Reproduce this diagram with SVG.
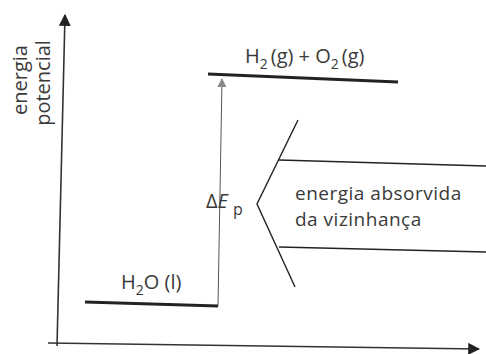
<svg xmlns="http://www.w3.org/2000/svg" width="486" height="354" viewBox="0 0 486 354">
<defs>
<style>
.t{font-family:"Open Sans","Liberation Sans",sans-serif;font-size:20px;fill:#3a3a3a}
.b{font-size:19px;letter-spacing:0.5px}
.ax{stroke:#333;stroke-width:1.6;fill:none}
.lv{stroke:#222;stroke-width:3;fill:none}
.ln{stroke:#222;stroke-width:1.4;fill:none}
.thin{stroke:#555;stroke-width:1;fill:none}
</style>
<marker id="ah2" viewBox="0 0 10 10" refX="9" refY="5" markerWidth="12" markerHeight="12" orient="auto" markerUnits="userSpaceOnUse">
<path d="M0,0 L10,5 L0,10 Z" fill="#222"/>
</marker>
<marker id="ah3" viewBox="0 0 10 10" refX="9" refY="5" markerWidth="9" markerHeight="10" orient="auto" markerUnits="userSpaceOnUse">
<path d="M0,0 L10,5 L0,10 Z" fill="#888"/>
</marker>
</defs>
<g id="connectors">
<path id="y-axis" class="ax" d="M57,346 L65,15" marker-end="url(#ah2)"/>
<path id="x-axis" class="ax" d="M48,343 L479,349" marker-end="url(#ah2)"/>
<path id="delta" class="thin" d="M218,306 L222,79" marker-end="url(#ah3)"/>
</g>
<g id="level-low">
<path class="lv" d="M85,302 L218,306"/>
<text class="t" x="121" y="289">H<tspan font-size="14" dy="6">2</tspan><tspan dy="-6">O (l)</tspan></text>
</g>
<g id="level-high">
<path class="lv" d="M208,74 L398,82"/>
<text class="t" x="245" y="63">H<tspan font-size="14" dy="6">2</tspan><tspan dy="-6" dx="3">(g) + O</tspan><tspan font-size="14" dy="6">2</tspan><tspan dy="-6" dx="3">(g)</tspan></text>
</g>
<g id="delta-label">
<text class="t" x="206" y="208">Δ<tspan font-style="italic">E</tspan><tspan font-size="16" dx="5" dy="7">p</tspan></text>
</g>
<g id="energy-arrow">
<path class="ln" d="M298,120 L257,204 L295,287"/>
<path class="ln" d="M279,160 L486,166"/>
<path class="ln" d="M279,247 L486,252"/>
<text class="t b" x="295" y="200">energia absorvida</text>
<text class="t b" x="295" y="226">da vizinhança</text>
</g>
<g id="axis-label">
<text class="t" text-anchor="middle" transform="translate(27,80) rotate(-90)">energia</text>
<text class="t" text-anchor="middle" transform="translate(50,83) rotate(-90)">potencial</text>
</g>
</svg>
